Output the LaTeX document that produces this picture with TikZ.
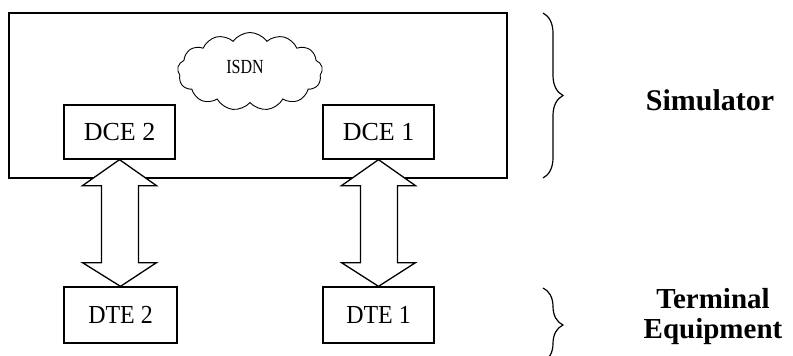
\documentclass[tikz,border=0pt]{standalone}
\usepackage{fontspec}
\setmainfont{Liberation Serif}
\usetikzlibrary{shapes.symbols,decorations.pathreplacing,calc}
\begin{document}
\begin{tikzpicture}[x=1pt,y=-1pt,line width=1.3pt,
  box/.style={draw,inner sep=0pt,font=\fontsize{26}{28}\selectfont},
  dblarrow/.style={draw,fill=white,line join=miter},
  bracestyle/.style={decorate,decoration={brace,amplitude=20pt}},
  lbl/.style={font=\fontsize{30}{30}\selectfont\bfseries,align=center}]
\useasboundingbox (0,0) rectangle (793,356);
% outer simulator box
\node[draw,inner sep=0pt,minimum width=498pt,minimum height=165pt] (simbox) at (258,95.5) {};
% cloud
\node[cloud,draw,line width=0.9pt,cloud puffs=13,cloud puff arc=110,aspect=1.9,
      inner sep=0pt,minimum width=145pt,minimum height=78pt] (isdn) at (250,71.5) {};
\node[font=\fontsize{20}{20}\selectfont] (isdnlbl) at (245,67) {\scalebox{0.8}[1]{ISDN}};
% boxes
\node[box,minimum width=111pt,minimum height=54pt] (dce2) at (119.5,132) {DCE 2};
\node[box,minimum width=111pt,minimum height=54pt] (dce1) at (378.5,132) {DCE 1};
\node[box,minimum width=113pt,minimum height=56pt] (dte2) at (120.5,315) {\scalebox{0.92}[1]{DTE 2}};
\node[box,minimum width=111pt,minimum height=56pt] (dte1) at (378.5,315) {\scalebox{0.92}[1]{DTE 1}};
% double arrows
\foreach \a/\b in {dce2/dte2,dce1/dte1}{
  \draw[dblarrow] (\a.south) coordinate (t)
    -- ($(t)+(37,26)$) -- ($(t)+(19,26)$) -- ($(t)+(19,103)$) -- ($(t)+(37,103)$)
    -- (\b.north)
    -- ($(t)+(-37,103)$) -- ($(t)+(-18,103)$) -- ($(t)+(-18,26)$) -- ($(t)+(-37,26)$) -- cycle;
}
% braces
\coordinate (b1a) at (543,13);
\coordinate (b1b) at (543,178);
\coordinate (b2a) at (543,288);
\coordinate (b2b) at (543,362);
\draw[bracestyle,line width=1.2pt] (b1a) -- (b1b);
\draw[bracestyle,line width=1.2pt] (b2a) -- (b2b);
\node[lbl] (simlbl) at (710,100) {Simulator};
\node[lbl,font=\fontsize{29}{30}\selectfont\bfseries] (telbl) at (713,317) {Terminal\\Equipment};
\end{tikzpicture}
\end{document}
